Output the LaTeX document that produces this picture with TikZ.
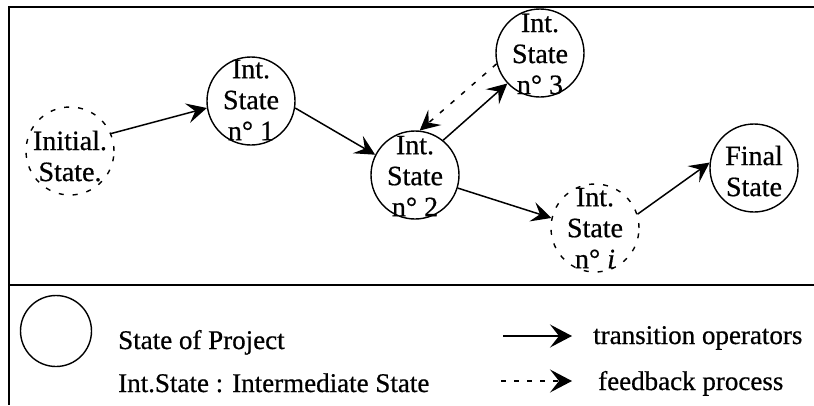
\documentclass[tikz,border=0pt]{standalone}
\usepackage{fontspec}
\setmainfont{Liberation Serif}[FakeBold=0.6]
\usetikzlibrary{arrows.meta}
\begin{document}
\begin{tikzpicture}[x=1pt,y=-1pt,
  state/.style={circle,draw,line width=1.4pt,minimum size=88pt,inner sep=0pt},
  dstate/.style={state,dash pattern=on 5pt off 9pt},
  stxt/.style={font=\fontsize{28}{31}\selectfont,align=center,inner sep=0pt},
  trans/.style={line width=1.5pt,-{Stealth[length=20pt,width=20pt,inset=8pt]}},
  legarrow/.style={line width=1.5pt,-{Stealth[length=22pt,width=23pt,inset=9pt]}},
  fb/.style={trans,dash pattern=on 5pt off 9pt},
  frame/.style={line width=1.8pt},
  legtxt/.style={font=\fontsize{27}{31}\selectfont,anchor=base west,inner sep=0pt}]
\useasboundingbox (0,0) rectangle (814,405);
% frame
\coordinate (tl) at (9,7);
\coordinate (tr) at (814,7);
\coordinate (ml) at (9,285);
\coordinate (mr) at (814,285);
\coordinate (bl) at (9,405);
\draw[frame] (tr) -- (tl) -- (bl);
\draw[frame] (ml) -- (mr);
% states
\node[dstate] (init) at (70,151) {};
\node[state] (s1) at (251,101) {};
\node[state] (s2) at (415,175) {};
\node[state] (s3) at (540,53) {};
\node[dstate] (si) at (595,228) {};
\node[state] (fin) at (754,168) {};
% texts
\node[stxt] (tinit) at (70,156) {Initial.\\State.};
\node[stxt] (ts1) at (251,100) {Int.\\State\\n° 1};
\node[stxt] (ts2) at (415,176) {Int.\\State\\n° 2};
\node[stxt] (ts3) at (540,54) {Int.\\State\\n° 3};
\node[stxt] (tsi) at (595,228) {Int.\\State\\n° \textit{i}};
\node[stxt] (tfin) at (754,171) {Final\\State};
% transitions
\draw[trans] (init.23) -- (s1.189);
\draw[trans] (s1.351) -- (s2.153);
\draw[trans] (s2.51) -- (s3.223);
\draw[fb] (s3.194) -- (s2.84);
\draw[trans] (s2.343) -- (si.167);
\draw[trans] (si.18) -- (fin.173);
% legend
\node[state,minimum size=71pt] (leg) at (56,331) {};
\node[legtxt] (l1) at (118,349) {State of Project};
\node[legtxt] (l2) at (118,392) {Int.State : Intermediate State};
\node[legtxt] (l3) at (593,344) {transition operators};
\node[legtxt] (l4) at (598,390) {feedback process};
\coordinate (a1s) at (503,336);
\coordinate (a1e) at (572,336);
\draw[legarrow] (a1s) -- (a1e);
\coordinate (a2s) at (501,381);
\coordinate (a2e) at (572,381);
\draw[legarrow,dash pattern=on 5pt off 8pt] (a2s) -- (a2e);
\end{tikzpicture}
\end{document}
